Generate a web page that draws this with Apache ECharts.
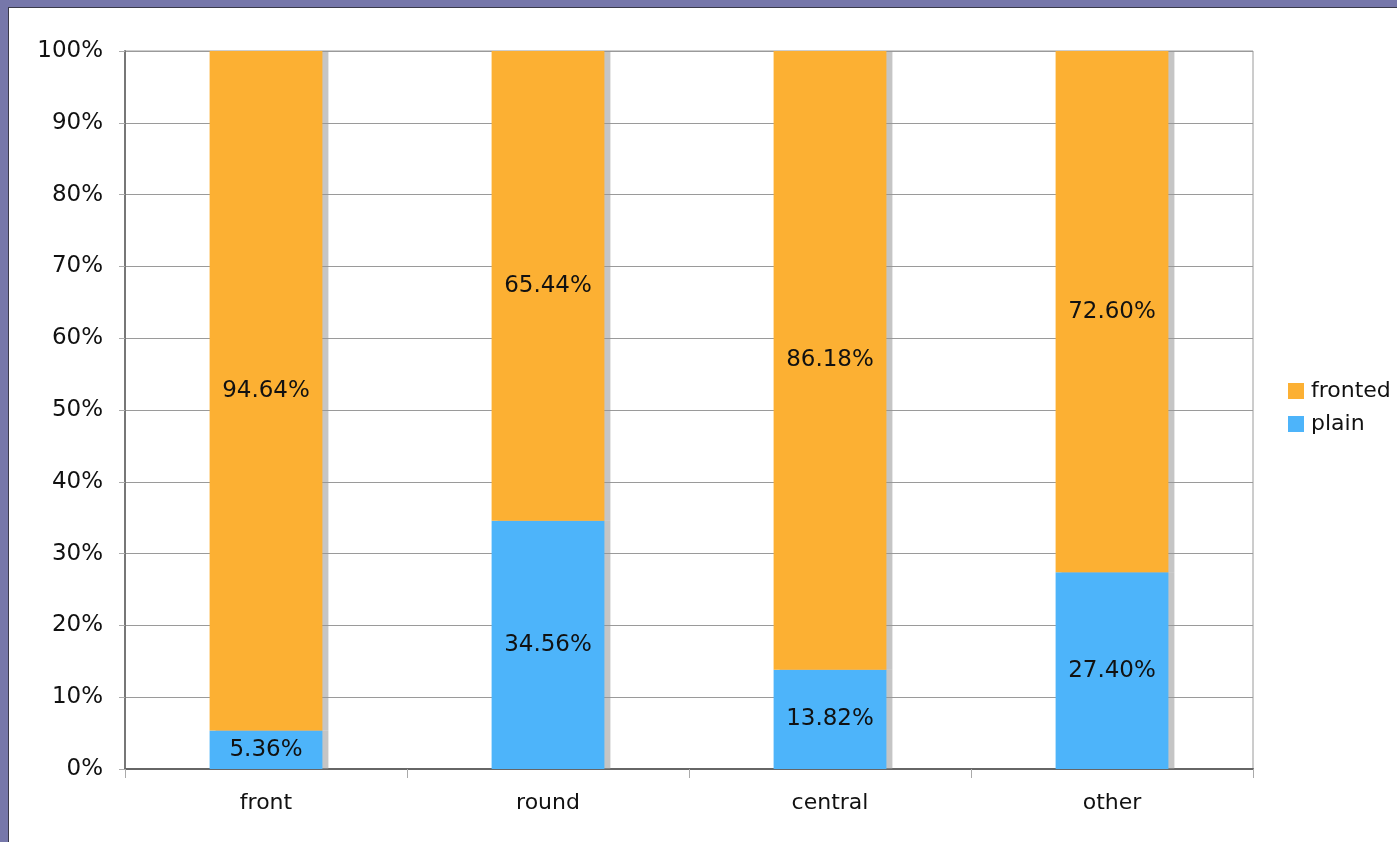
<!DOCTYPE html>
<html>
<head>
<meta charset="utf-8">
<script src="https://cdn.jsdelivr.net/npm/echarts@6/dist/echarts.min.js"></script>
<style>
  html, body { margin: 0; padding: 0; width: 1397px; height: 842px; overflow: hidden; background: #7677aa; }
  #chart { position: absolute; left: 8px; top: 7px; width: 1389px; height: 835px; background: #ffffff;
           border-left: 1px solid #3a3a4a; border-top: 1px solid #3a3a4a; }
</style>
</head>
<body>
<div id="chart"></div>
<script>
// Share of fronted vs plain forms per category (percent)
const categories = ['front', 'round', 'central', 'other'];
const frontedValues = [94.64, 65.44, 86.18, 72.60];
const plainValues = [5.36, 34.56, 13.82, 27.40];
const yTicks = [0, 10, 20, 30, 40, 50, 60, 70, 80, 90, 100];

const FONT = '"DejaVu Sans", Verdana, sans-serif';
const chart = echarts.init(document.getElementById('chart'));

const barLabel = {
  show: true,
  position: 'inside',
  color: '#111',
  fontFamily: FONT,
  fontSize: 23,
  formatter: p => p.value.toFixed(2) + '%'
};
const shadow = { shadowColor: 'rgba(150,150,150,0.55)', shadowOffsetX: 6, shadowOffsetY: 0, shadowBlur: 0 };

chart.setOption({
  animation: false,
  grid: {
    left: 116, top: 43, right: 145, bottom: 74,
    show: true, borderColor: '#9a9a9a', borderWidth: 1, backgroundColor: 'transparent'
  },
  legend: {
    orient: 'vertical',
    left: 1274, top: 367,
    itemWidth: 16, itemHeight: 16, itemGap: 11,
    icon: 'rect',
    data: ['fronted', 'plain'],
    textStyle: { fontFamily: FONT, fontSize: 22, color: '#111', padding: [0, 0, 0, 2] }
  },
  xAxis: {
    type: 'category',
    data: categories,
    axisLine: { lineStyle: { color: '#666', width: 2 } },
    axisTick: { show: true, length: 9, lineStyle: { color: '#aaa' } },
    axisLabel: { margin: 23, fontFamily: FONT, fontSize: 22, color: '#111' },
    splitLine: { show: false }
  },
  yAxis: {
    type: 'value',
    min: 0, max: 100, interval: 10,
    axisLine: { show: true, lineStyle: { color: '#777', width: 2 } },
    axisTick: { show: true, length: 6, lineStyle: { color: '#aaa' } },
    axisLabel: {
      margin: 22, fontFamily: FONT, fontSize: 23, color: '#111',
      formatter: v => (yTicks.includes(v) ? v + '%' : '')
    },
    splitLine: { lineStyle: { color: '#9a9a9a', width: 1 } }
  },
  series: [
    {
      name: 'plain', type: 'bar', stack: 'total', barWidth: '40%',
      data: plainValues,
      itemStyle: Object.assign({ color: '#4db4fa' }, shadow),
      label: barLabel
    },
    {
      name: 'fronted', type: 'bar', stack: 'total', barWidth: '40%',
      data: frontedValues,
      itemStyle: Object.assign({ color: '#fcb033' }, shadow),
      label: barLabel
    }
  ]
});
</script>
</body>
</html>
